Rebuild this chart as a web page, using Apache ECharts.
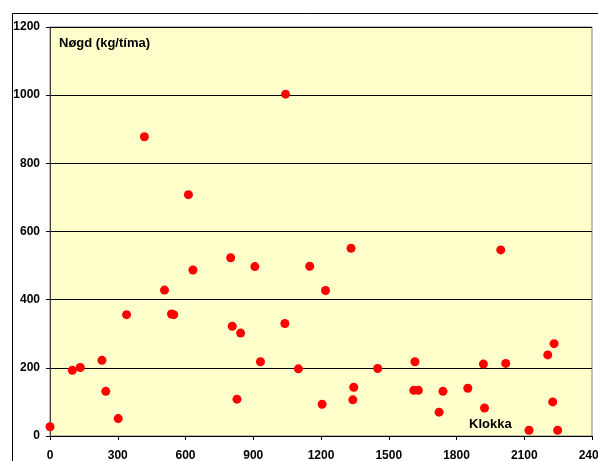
<!DOCTYPE html>
<html>
<head>
<meta charset="utf-8">
<script src="https://cdn.jsdelivr.net/npm/echarts@6/dist/echarts.min.js"></script>
<style>
html,body{margin:0;padding:0;background:#fff;}
#chart{width:598px;height:461px;}
</style>
</head>
<body>
<div id="chart"></div>
<script>
// Klokka (time, hhmm) values
const timeValues = [0, 99, 134, 230, 247, 302, 339, 418, 507, 538, 548, 613, 633, 800, 807, 828, 844, 907, 932, 1040, 1043, 1100, 1150, 1205, 1220, 1333, 1341, 1345, 1451, 1611, 1616, 1631, 1723, 1740, 1850, 1919, 1924, 1996, 2018, 2121, 2204, 2226, 2232, 2248];
// Nøgd (kg/tíma)
const amountValues = [27, 193, 201, 222, 131, 51, 356, 878, 428, 358, 356, 708, 487, 523, 322, 108, 302, 497, 218, 330, 1003, 197, 498, 93, 427, 551, 106, 143, 198, 134, 218, 134, 70, 131, 140, 211, 82, 546, 213, 17, 238, 100, 271, 17];
const xTicks = [0, 300, 600, 900, 1200, 1500, 1800, 2100, 2400];
const yTicks = [0, 200, 400, 600, 800, 1000, 1200];
const yTitle = 'Nøgd (kg/tíma)';
const xTitle = 'Klokka';

const points = timeValues.map((t, i) => [t, amountValues[i]]);
const chart = echarts.init(document.getElementById('chart'), null, {renderer: 'canvas'});
const font = 'Arial, "Liberation Sans", sans-serif';
chart.setOption({
  animation: false,
  backgroundColor: '#ffffff',
  grid: {left: 50, top: 27, right: 6, bottom: 25, outerBoundsMode: 'none', containLabel: false, show: true, backgroundColor: '#FFFFCC', borderColor: '#808080', borderWidth: 1},
  xAxis: {
    type: 'value', min: xTicks[0], max: xTicks[xTicks.length - 1], interval: 300,
    axisLine: {show: true, lineStyle: {color: '#000', width: 1}},
    axisTick: {show: true, length: 4, inside: false, lineStyle: {color: '#000'}},
    axisLabel: {show: true, margin: 14, color: '#000', fontSize: 12, fontWeight: 'bold', fontFamily: font, formatter: v => String(v), hideOverlap: false},
    splitLine: {show: false}
  },
  yAxis: {
    type: 'value', min: yTicks[0], max: yTicks[yTicks.length - 1], interval: 200,
    axisLine: {show: true, lineStyle: {color: '#404040', width: 1}},
    axisTick: {show: true, length: 4, lineStyle: {color: '#000'}},
    axisLabel: {show: true, margin: 10, color: '#000', fontSize: 12, fontWeight: 'bold', fontFamily: font, formatter: v => String(v)},
    splitLine: {show: true, lineStyle: {color: '#000', width: 1}}
  },
  graphic: [
    {type: 'line', shape: {x1: 12.5, y1: 13.5, x2: 598, y2: 13.5}, style: {stroke: '#000', lineWidth: 1}},
    {type: 'line', shape: {x1: 12.5, y1: 13.5, x2: 12.5, y2: 461}, style: {stroke: '#000', lineWidth: 1}},
    {type: 'text', left: 59, top: 37, style: {text: yTitle, fill: '#000', font: 'bold 13px ' + font}},
    {type: 'text', left: 469, top: 418, style: {text: xTitle, fill: '#000', font: 'bold 13px ' + font}}
  ],
  series: [{
    type: 'scatter',
    data: points,
    symbol: 'circle',
    symbolSize: 9,
    itemStyle: {color: '#FF0000', opacity: 1},
    z: 5
  }]
});
</script>
</body>
</html>
